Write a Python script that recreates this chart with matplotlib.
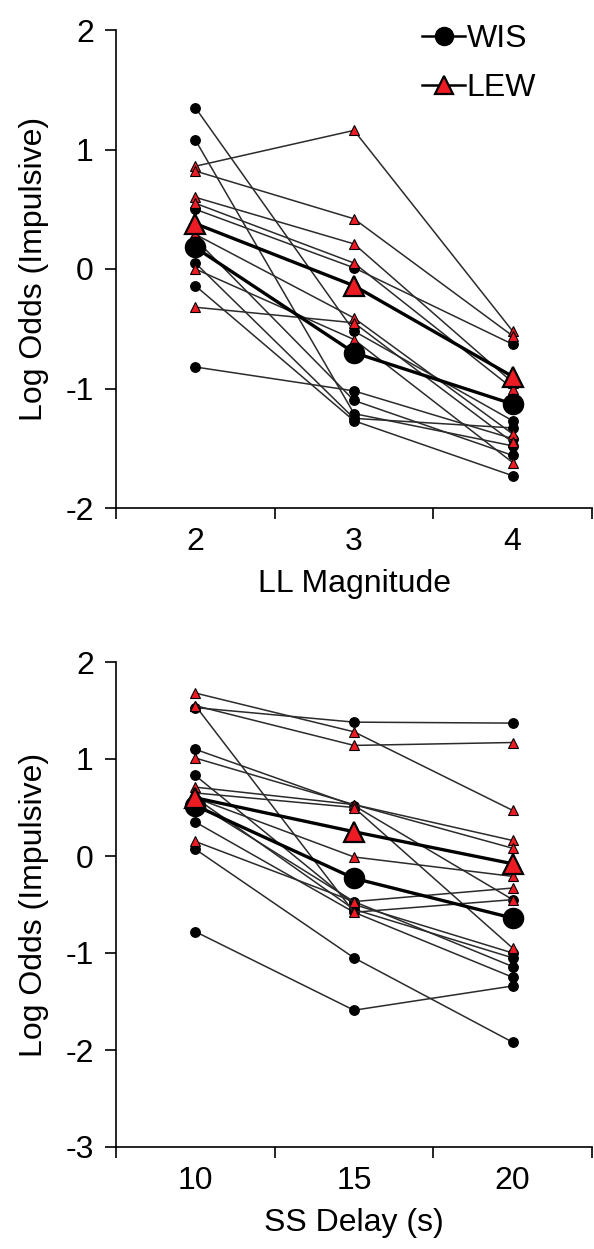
import matplotlib
matplotlib.use("Agg")
import matplotlib.pyplot as plt
from matplotlib.lines import Line2D

plt.rcParams['font.family'] = ['Liberation Sans', 'DejaVu Sans']

# ---------------- data ----------------
mag_x = [2, 3, 4]
mag_wis = [
    [1.35, -0.52, -1.27],
    [1.08, -1.21, -1.48],
    [0.50, 0.01, -0.63],
    [0.25, -1.10, -1.56],
    [0.05, -1.25, -1.33],
    [-0.14, -1.27, -1.73],
    [-0.82, -1.02, -1.42],
]
mag_lew = [
    [0.86, 1.16, -0.52],
    [0.82, 0.42, -0.56],
    [0.60, 0.21, -0.95],
    [0.55, 0.05, -1.00],
    [0.29, -0.41, -1.38],
    [0.00, -0.59, -1.62],
    [-0.32, -0.45, -1.45],
]
mag_wis_mean = [0.18, -0.70, -1.13]
mag_lew_mean = [0.38, -0.14, -0.90]

delay_x = [10, 15, 20]
delay_wis = [
    [1.53, 1.38, 1.37],
    [1.10, 0.52, -0.45],
    [0.83, -0.50, -1.00],
    [0.55, -0.47, -1.14],
    [0.35, -0.58, -1.25],
    [0.07, -1.05, -1.92],
    [-0.78, -1.59, -1.34],
    [0.60, -0.55, -1.05],
]
delay_lew = [
    [1.68, 1.28, 0.47],
    [1.55, 1.14, 1.17],
    [1.01, 0.53, 0.16],
    [0.71, 0.53, 0.08],
    [0.60, -0.01, -0.21],
    [0.15, -0.47, -0.33],
    [1.55, -0.58, -0.45],
    [0.65, 0.50, -0.95],
]
delay_wis_mean = [0.52, -0.23, -0.64]
delay_lew_mean = [0.60, 0.25, -0.08]

RED = '#ED1C24'
FS = 23

fig = plt.figure(figsize=(5.94, 12.49), dpi=100)
ax1 = fig.add_axes([116/594, 1-508/1249, (592-116)/594, (508-30)/1249])
ax2 = fig.add_axes([116/594, 1-1147/1249, (592-116)/594, (1147-662)/1249])


def draw(ax, x, wis, lew, wmean, lmean):
    for s in wis:
        ax.plot(x, s, color='#2b2b2b', lw=1.1, marker='o', ms=6.8,
                mfc='black', mec='black', zorder=2)
    for s in lew:
        ax.plot(x, s, color='#2b2b2b', lw=1.1, marker='^', ms=7,
                mfc=RED, mec='black', mew=0.8, zorder=2)
    ax.plot(x, wmean, color='black', lw=2.4, marker='o', ms=14.5,
            mfc='black', mec='black', zorder=4)
    ax.plot(x, lmean, color='black', lw=2.4, marker='^', ms=14,
            mfc=RED, mec='black', mew=1.6, zorder=5)


draw(ax1, mag_x, mag_wis, mag_lew, mag_wis_mean, mag_lew_mean)
draw(ax2, delay_x, delay_wis, delay_lew, delay_wis_mean, delay_lew_mean)


def style(ax, x, ylim, yticks, xlabel):
    step = x[1] - x[0]
    lo, hi = x[0] - step / 2, x[-1] + step / 2
    ax.set_xlim(lo, hi)
    ax.set_ylim(*ylim)
    ax.set_xticks([lo + i * step for i in range(len(x) + 1)])
    ax.set_xticklabels([])
    ax.set_xticks(x, minor=True)
    ax.set_xticklabels([str(v) for v in x], minor=True, fontsize=FS)
    ax.tick_params(axis='x', which='major', direction='out', length=8, width=1.2)
    ax.tick_params(axis='x', which='minor', length=0, pad=14)
    ax.set_yticks(yticks)
    ax.set_yticklabels([str(v) for v in yticks], fontsize=FS)
    ax.tick_params(axis='y', direction='out', length=8, width=1.2, pad=8)
    for sp in ['top', 'right']:
        ax.spines[sp].set_visible(False)
    for sp in ['left', 'bottom']:
        ax.spines[sp].set_linewidth(1.2)
    ax.set_xlabel(xlabel, fontsize=FS, labelpad=8)
    ax.set_ylabel('Log Odds (Impulsive)', fontsize=FS, labelpad=12)


style(ax1, mag_x, (-2, 2), [2, 1, 0, -1, -2], 'LL Magnitude')
style(ax2, delay_x, (-3, 2), [2, 1, 0, -1, -2, -3], 'SS Delay (s)')

handles = [
    Line2D([], [], color='black', lw=1.8, marker='o', ms=13, mfc='black', mec='black'),
    Line2D([], [], color='black', lw=1.8, marker='^', ms=13, mfc=RED, mec='black', mew=1.6),
]
ax1.legend(handles, ['WIS', 'LEW'], loc='upper left', bbox_to_anchor=(0.643, 1.012),
           frameon=False, fontsize=23, handlelength=1.35, handletextpad=0.05,
           labelspacing=0.6, borderpad=0, borderaxespad=0)

fig.savefig('out.png', dpi=100)
